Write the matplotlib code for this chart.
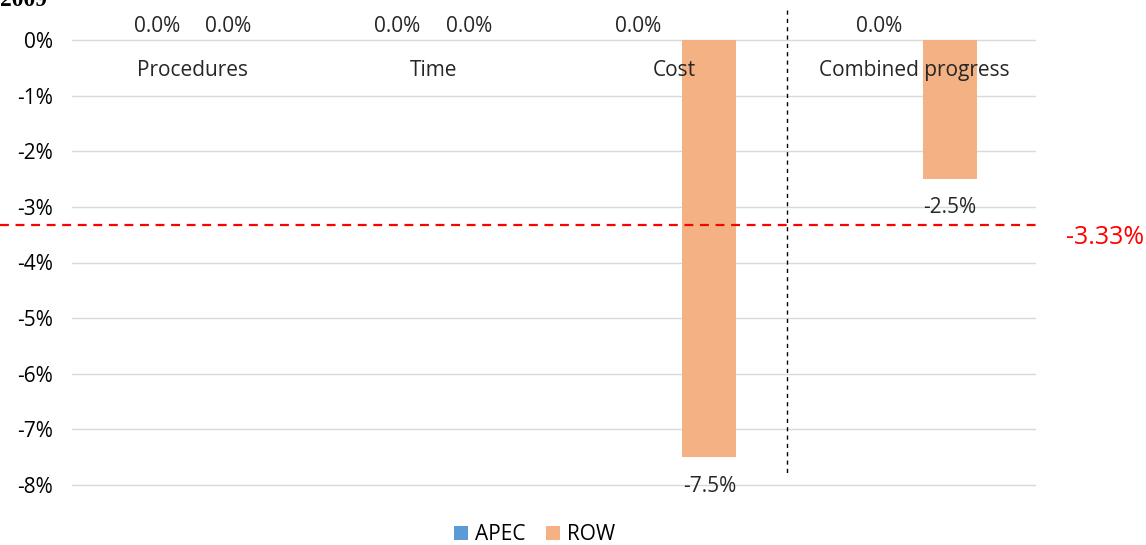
import numpy as np
import matplotlib.pyplot as plt

plt.rcParams["font.family"] = ["Open Sans", "DejaVu Sans"]

categories = ["Procedures", "Time", "Cost", "Combined progress"]
apec = [0.0, 0.0, 0.0, 0.0]
row = [0.0, 0.0, -7.5, -2.5]
avg_line = -3.33
yticks = [0, -1, -2, -3, -4, -5, -6, -7, -8]

fig = plt.figure(figsize=(11.46, 5.45), dpi=100)
ax = fig.add_axes([72 / 1146, 1 - 485 / 545, (1035 - 72) / 1146, 445 / 545])

x = np.arange(len(categories))
w = 0.224
off = 0.1475
ax.bar(x - off, apec, w, color="#5B9BD5", label="APEC", zorder=2)
ax.bar(x + off, row, w, color="#F4B183", label="ROW", zorder=2)

ax.set_xlim(-0.5, 3.5)
ax.set_ylim(-8, 0)
ax.set_yticks(yticks)
ax.set_yticklabels([f"{t}%" for t in yticks])
ax.set_xticks([])
for t in yticks:
    ax.axhline(t, color="#D9D9D9", lw=1, zorder=0, clip_on=False)
ax.tick_params(axis="y", length=0, labelsize=15, pad=14, colors="#000000")
for s in ax.spines.values():
    s.set_visible(False)

# value labels
for xi, a, r in zip(x, apec, row):
    ax.text(xi - off, 0.05, f"{a:.1f}%", ha="center", va="bottom",
            fontsize=15, color="#262626", clip_on=False)
    if r < 0:
        ax.text(xi + off, r - 0.33, f"{r:.1f}%", ha="center", va="top",
                fontsize=15, color="#262626", clip_on=False)
    elif xi < 2:
        ax.text(xi + off, 0.05, f"{r:.1f}%", ha="center", va="bottom",
                fontsize=15, color="#262626", clip_on=False)

# category labels inside top of plot
for xi, c in zip(x, categories):
    ax.text(xi, -0.55, c, ha="center", va="center", fontsize=15, color="#262626")

# average line
ax.plot([-0.8, 3.52], [avg_line, avg_line], ls=(0, (4, 3)), color="#FF0000",
        lw=1.6, clip_on=False, zorder=3)
ax.text(3.63, avg_line - 0.22, f"{avg_line:.2f}%", color="#FF0000", fontsize=18,
        ha="left", va="center", clip_on=False)

# separator
ax.plot([2.47, 2.47], [0.54, -7.82], ls=(0, (3, 3)), color="#000000", lw=1,
        clip_on=False, zorder=3)

ax.legend(loc="center", bbox_to_anchor=(0.48, -0.112), ncol=2, frameon=False,
          fontsize=15, handlelength=0.7, handleheight=0.7, columnspacing=1.0,
          handletextpad=0.3)

fig.text(0.0, 1.0, "2009", fontsize=17, fontweight="bold",
         family="Liberation Serif", ha="left", va="center")

fig.savefig("out.png", dpi=100)
